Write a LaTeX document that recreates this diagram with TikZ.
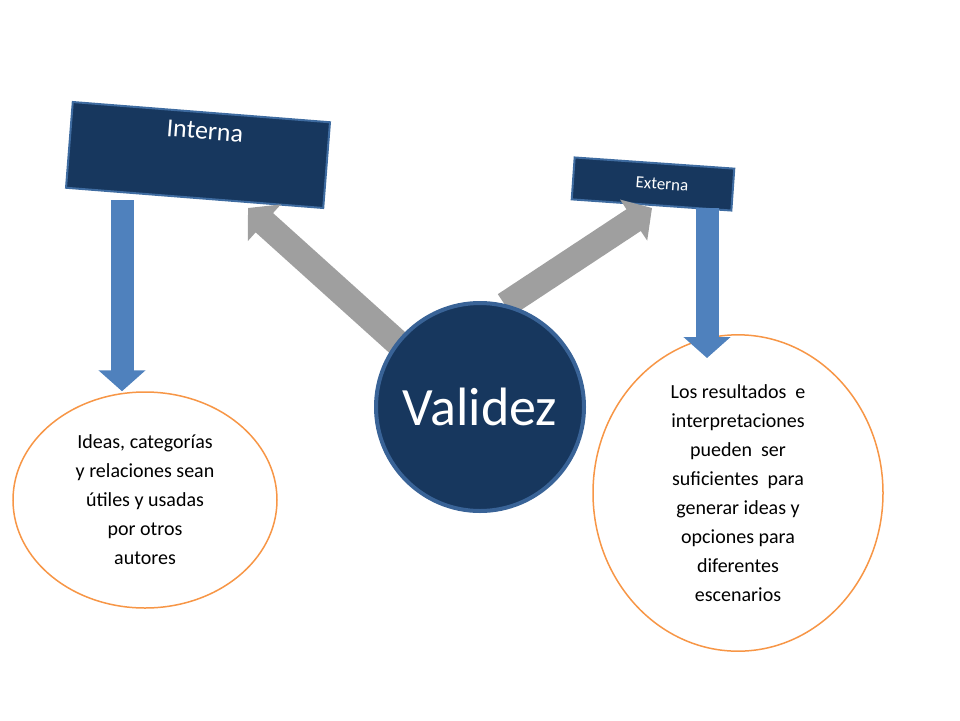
\documentclass[tikz,border=0pt]{standalone}
\usepackage{fontspec}
\setmainfont{Carlito}
\usetikzlibrary{arrows.meta}
\definecolor{boxblue}{RGB}{23,55,94}
\definecolor{arrowblue}{RGB}{79,129,189}
\definecolor{ringorange}{RGB}{247,150,70}
\tikzset{
  rotbox/.style={draw=arrowblue!70!boxblue,line width=2pt,fill=boxblue,text=white,inner sep=0pt},
  bluearrow/.style={draw=arrowblue,line width=23pt,-{Triangle[width=46pt,length=21pt]}},
  grayarrow/.style={draw=gray!75,line width=26pt,-{Triangle[width=48pt,length=22pt]}},
  ringtext/.style={draw=ringorange,line width=1.5pt,fill=white,ellipse,align=center,
    font=\fontsize{20}{29}\selectfont}
}
\usetikzlibrary{shapes.geometric}
\begin{document}
\begin{tikzpicture}[x=1pt,y=-1pt]
    \useasboundingbox (0,0) rectangle (960,720);
    % boxes at the top
    \node[rotbox,minimum width=258pt,minimum height=86pt,rotate=-4.5,
      font=\fontsize{26}{30}\selectfont] (interna) at (198,155) {};
    \node[white,rotate=-4.5,font=\fontsize{26}{30}\selectfont] at (205,131) {Interna};
    \node[rotbox,minimum width=160pt,minimum height=42pt,rotate=-4] (externa) at (653,184) {};
    \node[white,rotate=-4,font=\fontsize{17}{20}\selectfont] at (662,184) {Externa};
    % ellipses
    \node[ringtext,minimum width=264pt,minimum height=216pt] (ideas) at (145,500)
      {Ideas, categorías\\y relaciones sean\\útiles y usadas\\por otros\\autores};
    \node[ringtext,minimum width=290pt,minimum height=264pt] (resultados) at (738,493)
      {Los resultados\ \ e\\interpretaciones\\pueden\ \ ser\\suficientes\ \ para\\generar ideas y\\opciones para\\diferentes\\escenarios};
    % connectors
    \coordinate (ga) at (400,345);
    \coordinate (gb) at (505,305);
    \coordinate (ia) at (122,200);
    \coordinate (ea) at (707,208);
    \draw[grayarrow] (ga) -- (248,208);
    \draw[grayarrow] (gb) -- (652,208);
    \draw[bluearrow] (ia) -- (ideas.north -| ia);
    \draw[bluearrow] (ea) -- (707,358);
    % centre circle
    \node[circle,draw=arrowblue!60!boxblue,line width=4pt,fill=boxblue,minimum size=208pt,
      text=white,font=\fontsize{54}{60}\selectfont] (validez) at (480,407) {Validez};
\end{tikzpicture}
\end{document}
